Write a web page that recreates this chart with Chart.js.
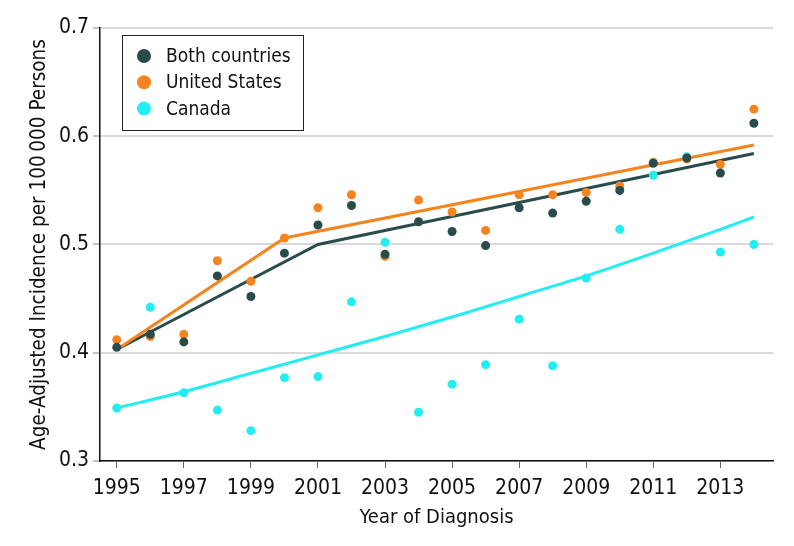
<!DOCTYPE html>
<html><head><meta charset="utf-8">
<script src="https://cdn.jsdelivr.net/npm/chart.js@4/dist/chart.umd.min.js"></script>
<style>html,body{margin:0;padding:0;background:#fff}#wrap{width:794px;height:546px;position:relative}</style>
</head><body><div id="wrap"><canvas id="c"></canvas></div>
<script>
const years = [1995,1996,1997,1998,1999,2000,2001,2002,2003,2004,2005,2006,2007,2008,2009,2010,2011,2012,2013,2014];
const bothObserved   = [0.405,0.417,0.410,0.471,0.452,0.492,0.518,0.536,0.491,0.521,0.512,0.499,0.534,0.529,0.540,0.550,0.575,0.580,0.566,0.612];
const usObserved     = [0.412,0.415,0.417,0.485,0.466,0.506,0.534,0.546,0.489,0.541,0.530,0.513,0.546,0.546,0.548,0.554,0.576,0.579,0.574,0.625];
const canadaObserved = [0.349,0.442,0.363,0.347,0.328,0.377,0.378,0.447,0.502,0.345,0.371,0.389,0.431,0.388,0.469,0.514,0.564,0.581,0.493,0.500];
const bothTrendYears = [1995,2001,2014];
const bothTrend      = [0.403,0.500,0.584];
const usTrendYears   = [1995,2000,2014];
const usTrend        = [0.403,0.506,0.592];
const canadaTrendYears = [1995,1997,1999,2001,2003,2005,2007,2009,2011,2013,2014];
const canadaTrend      = [0.349,0.364,0.381,0.398,0.415,0.433,0.452,0.471,0.492,0.514,0.5255];
const xTickYears = [1995,1997,1999,2001,2003,2005,2007,2009,2011,2013];
const yTickValues = [0.3,0.4,0.5,0.6,0.7];
const seriesNames = ['Both countries','United States','Canada'];
const xTitle = 'Year of Diagnosis';
const yTitle = 'Age-Adjusted Incidence per 100\u2009000 Persons';

const COL = ['#2a4b4b','#f5841f','#22eef2'];
const FONT = '"Liberation Sans Narrow","DejaVu Sans Condensed","Liberation Sans",sans-serif';

const pts = (xs, ys) => xs.map((x,i)=>({x:x,y:ys[i]}));

const legendPlugin = {
  id:'boxLegend',
  afterDraw(chart){
    const ctx = chart.ctx;
    const ca = chart.chartArea;
    const left = ca.left + 22, top = ca.top + 7, w = 181, h = 95;
    ctx.save();
    ctx.fillStyle = '#fff';
    ctx.fillRect(left, top, w, h);
    ctx.strokeStyle = '#222';
    ctx.lineWidth = 1;
    ctx.strokeRect(left+0.5, top+0.5, w, h);
    ctx.font = '19px ' + FONT;
    ctx.textBaseline = 'middle';
    seriesNames.forEach((n,i)=>{
      const cy = top + 21 + i*26.3;
      ctx.beginPath();
      ctx.arc(left+22, cy, 7, 0, Math.PI*2);
      ctx.fillStyle = COL[i];
      ctx.fill();
      ctx.fillStyle = '#111';
      ctx.fillText(n, left+44, cy+1);
    });
    ctx.restore();
  }
};

new Chart(document.getElementById('c'), {
  type:'scatter',
  data:{
    datasets:[
      {label:seriesNames[0]+' trend', type:'line', data:pts(bothTrendYears,bothTrend), borderColor:COL[0], borderWidth:3, pointRadius:0, fill:false, order:5},
      {label:seriesNames[1]+' trend', type:'line', data:pts(usTrendYears,usTrend), borderColor:COL[1], borderWidth:3, pointRadius:0, fill:false, order:4},
      {label:seriesNames[2]+' trend', type:'line', data:pts(canadaTrendYears,canadaTrend), borderColor:COL[2], borderWidth:3, pointRadius:0, fill:false, cubicInterpolationMode:'monotone', order:6},
      {label:seriesNames[2], data:pts(years,canadaObserved), backgroundColor:COL[2], borderWidth:0, pointRadius:4.5, order:3},
      {label:seriesNames[1], data:pts(years,usObserved), backgroundColor:COL[1], borderWidth:0, pointRadius:4.5, order:2},
      {label:seriesNames[0], data:pts(years,bothObserved), backgroundColor:COL[0], borderWidth:0, pointRadius:4.5, order:1}
    ]
  },
  options:{
    responsive:true, maintainAspectRatio:false, animation:false,
    layout:{padding:{top:28, right:21, left:0, bottom:0}},
    plugins:{legend:{display:false}, tooltip:{enabled:false}},
    scales:{
      x:{
        type:'linear', min:1994.5, max:2014.57,
        afterBuildTicks(s){ s.ticks = xTickYears.map(v=>({value:v})); },
        afterFit(s){ s.height = 85; },
        ticks:{callback:v=>String(v), color:'#111', font:{family:FONT,size:21}, padding:8, maxRotation:0, autoSkip:false},
        grid:{drawOnChartArea:false, tickLength:7, tickColor:'#666', tickWidth:1},
        border:{color:'#111', width:1.5},
        title:{display:true, text:xTitle, color:'#111', font:{family:FONT,size:20}, padding:{top:6, bottom:16}}
      },
      y:{
        min:0.3, max:0.7,
        afterBuildTicks(s){ s.ticks = yTickValues.map(v=>({value:v})); },
        afterFit(s){ s.width = 100; },
        ticks:{callback:v=>v.toFixed(1), color:'#111', font:{family:FONT,size:21}, padding:4},
        grid:{color:'#d9d9d9', lineWidth:2, tickLength:7, tickColor:'#888', tickWidth:1},
        border:{color:'#111', width:1.5},
        title:{display:true, text:yTitle, color:'#111', font:{family:FONT,size:20.5}, padding:{top:27, bottom:8}}
      }
    }
  },
  plugins:[legendPlugin]
});
</script></body></html>
